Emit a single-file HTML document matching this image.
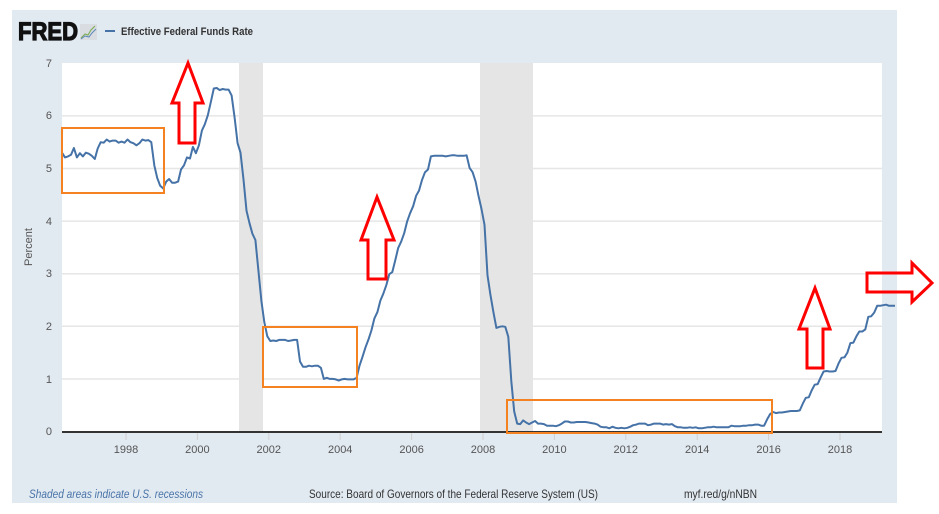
<!DOCTYPE html>
<html>
<head>
<meta charset="utf-8">
<style>
  html,body{margin:0;padding:0;background:#fff;}
  svg{display:block;}
  text{font-family:"Liberation Sans Narrow","Liberation Sans",sans-serif;}
</style>
</head>
<body>
<svg id="chart" width="939" height="514" viewBox="0 0 939 514" xmlns="http://www.w3.org/2000/svg">
  <rect x="0" y="0" width="939" height="514" fill="#ffffff"/>
  <!-- panel -->
  <rect x="12" y="10" width="885" height="493" fill="#e1e9f1"/>
  <!-- plot area -->
  <rect x="62" y="63" width="820" height="369" fill="#ffffff"/>
  <!-- gridlines -->
  <g stroke="#e6e6e6" stroke-width="1.5">
    <line x1="62" y1="379" x2="882" y2="379"/>
    <line x1="62" y1="326.3" x2="882" y2="326.3"/>
    <line x1="62" y1="273.7" x2="882" y2="273.7"/>
    <line x1="62" y1="221.1" x2="882" y2="221.1"/>
    <line x1="62" y1="168.5" x2="882" y2="168.5"/>
    <line x1="62" y1="115.9" x2="882" y2="115.9"/>
  </g>
  <!-- recessions -->
  <rect x="239" y="63" width="24" height="369" fill="#e5e5e5"/>
  <rect x="480" y="63" width="53" height="369" fill="#e5e5e5"/>
  <!-- x ticks -->
  <g stroke="#d0d0d0" stroke-width="1">
    <line x1="126" y1="432" x2="126" y2="440"/>
    <line x1="197.4" y1="432" x2="197.4" y2="440"/>
    <line x1="268.8" y1="432" x2="268.8" y2="440"/>
    <line x1="340.2" y1="432" x2="340.2" y2="440"/>
    <line x1="411.6" y1="432" x2="411.6" y2="440"/>
    <line x1="483" y1="432" x2="483" y2="440"/>
    <line x1="554.4" y1="432" x2="554.4" y2="440"/>
    <line x1="625.8" y1="432" x2="625.8" y2="440"/>
    <line x1="697.2" y1="432" x2="697.2" y2="440"/>
    <line x1="768.6" y1="432" x2="768.6" y2="440"/>
    <line x1="840" y1="432" x2="840" y2="440"/>
  </g>
  <!-- axis line -->
  <line x1="62" y1="432" x2="882" y2="432" stroke="#333" stroke-width="2"/>
  <!-- y labels -->
  <g font-size="11" fill="#555" text-anchor="end">
    <text x="52" y="435">0</text>
    <text x="52" y="383">1</text>
    <text x="52" y="330">2</text>
    <text x="52" y="277">3</text>
    <text x="52" y="225">4</text>
    <text x="52" y="172">5</text>
    <text x="52" y="119">6</text>
    <text x="52" y="67">7</text>
  </g>
  <text x="0" y="0" font-size="11" fill="#555" text-anchor="middle" transform="translate(32,247) rotate(-90)">Percent</text>
  <!-- x labels -->
  <g font-size="11" fill="#555" text-anchor="middle">
    <text x="126" y="453">1998</text>
    <text x="197.4" y="453">2000</text>
    <text x="268.8" y="453">2002</text>
    <text x="340.2" y="453">2004</text>
    <text x="411.6" y="453">2006</text>
    <text x="483" y="453">2008</text>
    <text x="554.4" y="453">2010</text>
    <text x="625.8" y="453">2012</text>
    <text x="697.2" y="453">2014</text>
    <text x="768.6" y="453">2016</text>
    <text x="840" y="453">2018</text>
  </g>
  <!-- series -->
  <path id="series" d="" fill="none" stroke="#4572a7" stroke-width="2" stroke-linejoin="round"/>
  <!-- header -->
  <text x="18" y="40" fill="#111" stroke="#111" stroke-width="1.2" textLength="60" lengthAdjust="spacingAndGlyphs" style="font-family:'Liberation Sans',sans-serif;font-size:25px;font-weight:bold;">FRED</text>
  <rect x="80" y="24" width="17" height="16" fill="#d9dde2"/>
  <polyline points="81,38 85,34 88,35 91,30 95,26" fill="none" stroke="#7fae5a" stroke-width="1.2"/>
  <polyline points="81,39 85,36 89,37 92,33 96,29" fill="none" stroke="#5b86b8" stroke-width="1"/>
  <line x1="105" y1="31" x2="115" y2="31" stroke="#4572a7" stroke-width="2"/>
  <text x="121" y="35" font-size="11" font-weight="bold" fill="#333" textLength="132" lengthAdjust="spacingAndGlyphs">Effective Federal Funds Rate</text>
  <!-- footer -->
  <text x="29" y="498" font-size="12" font-style="italic" fill="#4a74a8" textLength="174" lengthAdjust="spacingAndGlyphs">Shaded areas indicate U.S. recessions</text>
  <text x="309" y="498" font-size="12" fill="#333" textLength="289" lengthAdjust="spacingAndGlyphs">Source: Board of Governors of the Federal Reserve System (US)</text>
  <text x="684" y="498" font-size="12" fill="#333" textLength="73" lengthAdjust="spacingAndGlyphs">myf.red/g/nNBN</text>
  <!-- orange boxes -->
  <g fill="none" stroke="#f58220" stroke-width="2">
    <rect x="62" y="128" width="102" height="65"/>
    <rect x="263" y="327" width="94" height="60"/>
    <rect x="507" y="400" width="265" height="33"/>
  </g>
  <!-- red arrows -->
  <g fill="none" stroke="#ff0000" stroke-width="3" stroke-linejoin="miter">
    <polygon points="188,63 203,103 195,103 195,143 179,143 179,103 172,103"/>
    <polygon points="377,197 394,240 386,240 386,279 368,279 368,240 361,240"/>
    <polygon points="815,288 830,329 823,329 823,368 807,368 807,329 799,329"/>
    <polygon points="867,273 912,273 912,263 932,283 912,302 912,292 867,292"/>
  </g>
</svg>
<script>
(function(){
var d=[
5.31,5.22,5.24,5.27,5.40,5.22,5.30,5.24,5.31,5.29,
5.25,5.19,5.39,5.51,5.50,5.56,5.52,5.54,5.54,5.50,5.52,5.50,
5.56,5.51,5.49,5.45,5.49,5.56,5.54,5.55,5.51,5.07,4.83,4.68,
4.63,4.76,4.81,4.74,4.74,4.76,4.99,5.07,5.22,5.20,5.42,5.30,
5.45,5.73,5.85,6.02,6.27,6.53,6.54,6.50,6.52,6.51,6.51,6.40,
5.98,5.49,5.31,4.80,4.21,3.97,3.77,3.65,3.07,2.49,2.09,1.82,
1.73,1.74,1.73,1.75,1.75,1.75,1.73,1.74,1.75,1.75,1.34,1.24,
1.24,1.26,1.25,1.26,1.26,1.22,1.01,1.03,1.01,1.01,1.00,0.98,
1.00,1.01,1.00,1.00,1.00,1.03,1.26,1.43,1.61,1.76,1.93,2.16,
2.28,2.50,2.63,2.79,3.00,3.04,3.26,3.50,3.62,3.78,4.00,4.16,
4.29,4.49,4.59,4.79,4.94,4.99,5.24,5.25,5.25,5.25,5.25,5.24,
5.25,5.26,5.26,5.25,5.25,5.25,5.26,5.02,4.94,4.76,4.49,4.24,
3.94,2.98,2.61,2.28,1.98,2.00,2.01,2.00,1.81,0.97,0.39,0.16,
0.15,0.22,0.18,0.15,0.18,0.21,0.16,0.16,0.15,0.12,0.12,0.12,
0.11,0.13,0.16,0.20,0.20,0.18,0.18,0.19,0.19,0.19,0.19,0.18,
0.17,0.16,0.14,0.10,0.09,0.09,0.07,0.10,0.08,0.07,0.08,0.07,
0.08,0.10,0.13,0.14,0.16,0.16,0.16,0.13,0.14,0.16,0.16,0.16,
0.14,0.15,0.14,0.15,0.11,0.09,0.09,0.08,0.08,0.09,0.08,0.09,
0.07,0.07,0.08,0.09,0.09,0.10,0.09,0.09,0.09,0.09,0.09,0.12,
0.11,0.11,0.11,0.12,0.12,0.13,0.13,0.14,0.14,0.12,0.12,0.24,
0.34,0.38,0.36,0.37,0.37,0.38,0.39,0.40,0.40,0.40,0.41,0.54,
0.65,0.66,0.79,0.90,0.91,1.04,1.15,1.16,1.15,1.15,1.16,1.30,
1.41,1.42,1.51,1.69,1.70,1.82,1.91,1.91,1.95,2.19,2.20,2.27,
2.40,2.40,2.41,2.42,2.40,2.40
];
function X(t){return 126+(t-1998)*35.7;}
function Y(v){return 432-52.6*v;}
var s="";
for(var i=0;i<d.length;i++){
  var t=1996+(2+i+0.5)/12;
  s+=(i?"L":"M")+X(t).toFixed(1)+","+Y(d[i]).toFixed(1);
}
s+="L895,"+Y(2.40).toFixed(1);
document.getElementById("series").setAttribute("d",s);
})();
</script>
</body>
</html>
